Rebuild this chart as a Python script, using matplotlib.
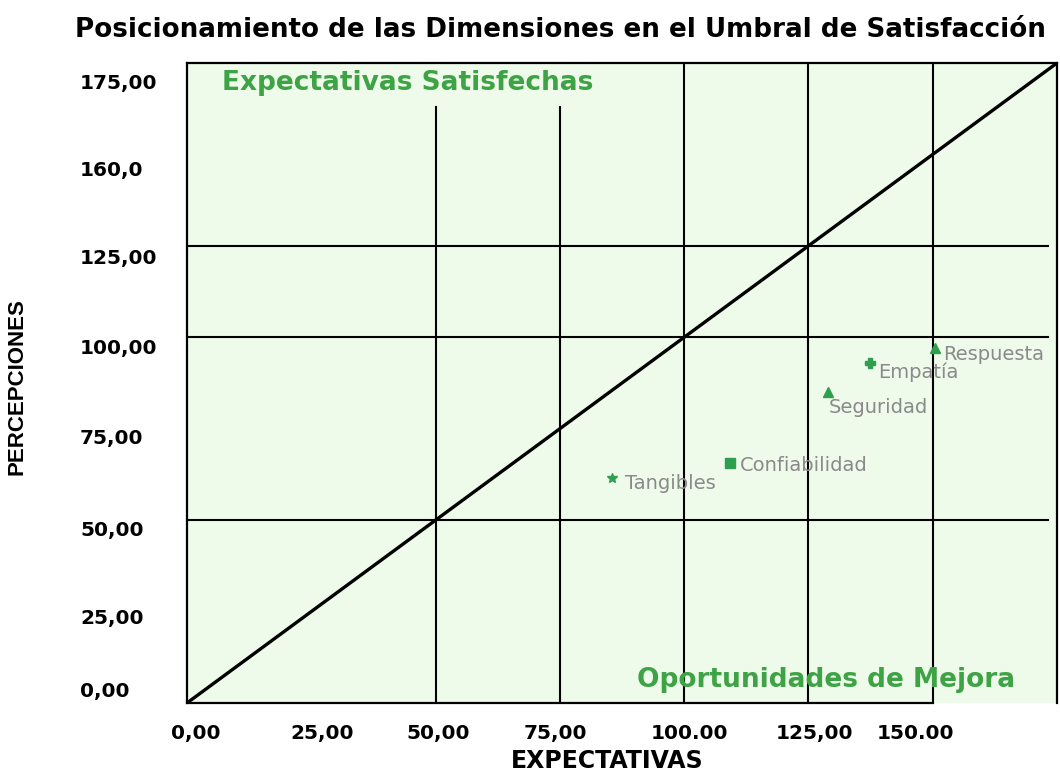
import matplotlib.pyplot as plt
from matplotlib.transforms import ScaledTranslation

# Dimension scores: expectations (x) vs perceptions (y)
dimensiones = ["Respuesta", "Empatía", "Seguridad", "Confiabilidad", "Tangibles"]
expectativas = [150.5, 137.4, 128.9, 109.2, 85.5]
percepciones = [97.1, 93.0, 85.0, 65.6, 61.5]
marcadores = ["^", "P", "^", "s", "*"]

# Satisfaction threshold line (perception == expectation)
umbral = [0, 175]

# Tick values and their printed labels
x_ticks = [0, 25, 50, 75, 100, 125, 150]
x_labels = ["0,00", "25,00", "50,00", "75,00", "100.00", "125,00", "150.00"]
y_ticks = [0, 25, 50, 75, 100, 125, 150, 175]
y_labels = ["0,00", "25,00", "50,00", "75,00", "100,00", "125,00", "160,0", "175,00"]

plt.rcParams["font.family"] = ["DejaVu Sans"]

fig = plt.figure(figsize=(10.6, 7.71), dpi=100)
ax = fig.add_axes([0.1764, 0.0882, 0.8208, 0.8301])
ax.set_facecolor("#eefaea")
ax.set_xlim(0, 175)
ax.set_ylim(0, 175)

# Grid: short vertical lines at 50 and 75, full ones further right
for gx in [50, 75]:
    ax.axvline(gx, ymax=163 / 175, color="black", lw=1.5, zorder=1)
for gx in [100, 125, 150]:
    ax.axvline(gx, color="black", lw=1.5, zorder=1)
for gy in [50, 100, 125]:
    ax.axhline(gy, xmax=0.99, color="black", lw=1.5, zorder=1)

# Threshold diagonal
ax.plot(umbral, umbral, color="black", lw=2.4, zorder=2)

# Dimension markers and their labels
offsets = [(6, -5), (6, -7), (1, -11), (7, -2), (9, -4)]
for nombre, x, y, m, off in zip(dimensiones, expectativas, percepciones, marcadores, offsets):
    ax.plot(x, y, marker=m, color="#2f9e4f", markersize=7, linestyle="none", zorder=3)
    ax.annotate(nombre, (x, y), xytext=off, textcoords="offset points",
                ha="left", va="center", fontsize=14, color="#8a8a8a")

# Region labels
ax.text(7, 169.5, "Expectativas Satisfechas", fontsize=19, fontweight="bold",
        color="#3ea345", ha="left", va="center")
ax.text(166.6, 6.3, "Oportunidades de Mejora", fontsize=19, fontweight="bold",
        color="#3ea345", ha="right", va="center")

# Axes frame
for side in ["left", "top", "right", "bottom"]:
    ax.spines[side].set_linewidth(1.6)
    ax.spines[side].set_color("black")
ax.spines["bottom"].set_bounds(0, 150)

ax.set_xticks(x_ticks)
ax.set_xticklabels(x_labels, fontsize=14.5, fontweight="bold")
ax.set_yticks(y_ticks)
ax.set_yticklabels(y_labels, fontsize=14.5, fontweight="bold")
ax.tick_params(axis="both", length=0)
ax.tick_params(axis="x", pad=15)
ax.tick_params(axis="y", pad=77)

# tick labels sit a little off their tick values
x_shift_px = [9, 11, 3, -4, 5, 6, -17]
for lbl, dx in zip(ax.get_xticklabels(), x_shift_px):
    lbl.set_transform(lbl.get_transform() + ScaledTranslation(dx / 100, 0, fig.dpi_scale_trans))
y_shift_px = [13, -5, -8, -8, -9, -11, -14, -19]
for lbl, dy in zip(ax.get_yticklabels(), y_shift_px):
    lbl.set_ha("left")
    lbl.set_transform(lbl.get_transform() + ScaledTranslation(0, dy / 100, fig.dpi_scale_trans))

ax.set_xlabel("EXPECTATIVAS", fontsize=17, fontweight="bold")
ax.xaxis.set_label_coords(0.483, -0.072)
ax.set_ylabel("PERCEPCIONES", fontsize=16, fontweight="bold",
              family=["Liberation Sans", "DejaVu Sans"])
ax.yaxis.set_label_coords(-0.183, 0.495)

fig.text(0.0707, 0.961, "Posicionamiento de las Dimensiones en el Umbral de Satisfacción",
         fontsize=18.8, fontweight="bold", ha="left", va="center")

fig.savefig("out.png", dpi=100, facecolor="white")
